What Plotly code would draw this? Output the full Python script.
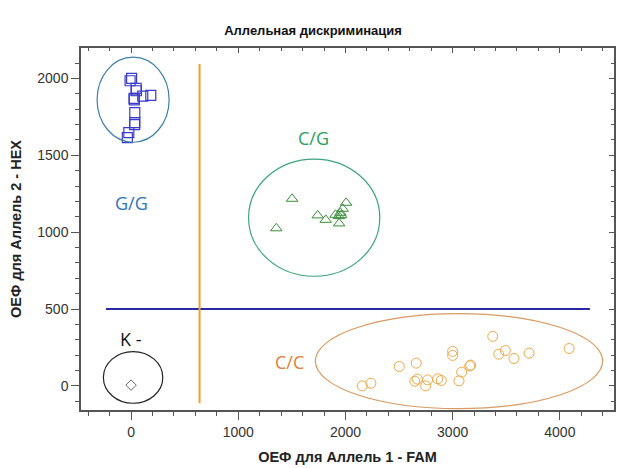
import plotly.graph_objects as go

# G/G cluster (squares)
gg_x = [-9, 5, 47, 50, 28, 30, 109, 184, 35, 35, 33, -21, -35]
gg_y = [1985, 2000, 1935, 1920, 1870, 1860, 1885, 1890, 1778, 1713, 1700, 1648, 1615]

# C/G cluster (triangles)
cg_x = [1502, 1355, 1741, 1816, 1907, 1938, 1953, 1975, 2006, 1941, 1960]
cg_y = [1217, 1025, 1109, 1080, 1113, 1104, 1126, 1152, 1191, 1057, 1110]

# C/C cluster (circles)
cc_x = [2156, 2237, 2502, 2660, 2647, 2670, 2748, 2766, 2860, 2894, 3000,
        3000, 3059, 3084, 3159, 3168, 3374, 3430, 3491, 3572, 3713, 4086]
cc_y = [0, 17, 126, 148, 30, 44, 0, 39, 46, 35, 224,
        198, 33, 89, 130, 135, 322, 206, 230, 178, 213, 243]

# negative control
neg_x = [0]
neg_y = [5]

# threshold lines
thr_x = 639
thr_y = 500

# cluster ellipses: name, center x, center y, radius x, radius y, colour
ellipses = [
    ("G/G", 19, 1862, 336, 277, "#3f7fa8"),
    ("C/G", 1708, 1094, 612, 381, "#3aa57a"),
    ("C/C", 3059, 161, 1340, 309, "#d99a60"),
    ("K -", 19, 55, 277, 168, "#222222"),
]

# labels
labels = [
    ("G/G", 5, 1190, "#2e75b6"),
    ("C/G", 1705, 1615, "#2ca05a"),
    ("K -", 0, 305, "#111111"),
    ("C/C", 1475, 155, "#e0803a"),
]

fig = go.Figure()

fig.add_trace(go.Scatter(x=gg_x, y=gg_y, mode="markers",
                         marker=dict(symbol="square-open", size=10, color="#3a3acc", line=dict(width=1.2))))
fig.add_trace(go.Scatter(x=cg_x, y=cg_y, mode="markers",
                         marker=dict(symbol="triangle-up-open", size=10, color="#3c8c3c", line=dict(width=1))))
fig.add_trace(go.Scatter(x=cc_x, y=cc_y, mode="markers",
                         marker=dict(symbol="circle-open", size=10, color="#f0a848", line=dict(width=1))))
fig.add_trace(go.Scatter(x=neg_x, y=neg_y, mode="markers",
                         marker=dict(symbol="diamond-open", size=8, color="#666666", line=dict(width=1))))

# threshold lines
fig.add_trace(go.Scatter(x=[-234, 4280], y=[thr_y, thr_y], mode="lines",
                         line=dict(color="#2a2aa0", width=2)))
fig.add_trace(go.Scatter(x=[thr_x, thr_x], y=[-113, 2094], mode="lines",
                         line=dict(color="#f0a030", width=2)))

for name, cx, cy, rx, ry, col in ellipses:
    fig.add_shape(type="circle", xref="x", yref="y",
                  x0=cx - rx, x1=cx + rx, y0=cy - ry, y1=cy + ry,
                  line=dict(color=col, width=1.2))

for txt, lx, ly, col in labels:
    fig.add_annotation(x=lx, y=ly, text=txt, showarrow=False,
                       font=dict(size=18, color=col, family="Segoe UI, Open Sans, sans-serif"))

tick_font = dict(family="Liberation Sans, Arial, sans-serif", size=14, color="#333333")
title_font = dict(family="Liberation Sans, Arial, sans-serif", size=14.5, color="#222222")
line_col = "#555555"

fig.update_layout(
    width=626, height=468,
    margin=dict(l=81, r=12, t=48, b=58, autoexpand=False),
    paper_bgcolor="white", plot_bgcolor="white",
    showlegend=False,
    title=dict(text="<b>Аллельная дискриминация</b>", x=0.5, xanchor="center",
               y=0.934, yanchor="middle", automargin=False,
               font=dict(family="Liberation Sans, Arial, sans-serif", size=13, color="#111111")),
    xaxis=dict(range=[-467, 4505], tickvals=[0, 1000, 2000, 3000, 4000], automargin=False,
               showgrid=False, zeroline=False, showline=True, linecolor=line_col, linewidth=1.5,
               ticks="outside", ticklen=8, tickcolor=line_col,
               minor=dict(ticks="outside", ticklen=4, dtick=200, tick0=0, tickcolor=line_col),
               tickfont=tick_font,
               title=dict(text="<b>ОЕФ для Аллель 1 - FAM</b>", font=title_font, standoff=13)),
    yaxis=dict(range=[-157, 2198], tickvals=[0, 500, 1000, 1500, 2000], automargin=False,
               showgrid=False, zeroline=False, showline=True, linecolor=line_col, linewidth=1.5,
               ticks="outside", ticklen=8, tickcolor=line_col,
               minor=dict(ticks="outside", ticklen=4, dtick=100, tick0=0, tickcolor=line_col),
               tickfont=tick_font,
               title=dict(text="<b>ОЕФ для Аллель 2 - HEX</b>", font=title_font, standoff=12)),
    xaxis2=dict(overlaying="x", matches="x", side="top", showticklabels=False, automargin=False,
                showgrid=False, zeroline=False, showline=True, linecolor=line_col, linewidth=1.5,
                tickvals=[0, 1000, 2000, 3000, 4000], ticks="inside", ticklen=5, tickcolor=line_col,
                minor=dict(ticks="inside", ticklen=3, dtick=200, tick0=0, tickcolor=line_col)),
    yaxis2=dict(overlaying="y", matches="y", side="right", showticklabels=False, automargin=False,
                showgrid=False, zeroline=False, showline=True, linecolor=line_col, linewidth=1.5,
                tickvals=[0, 500, 1000, 1500, 2000], ticks="inside", ticklen=5, tickcolor=line_col,
                minor=dict(ticks="inside", ticklen=3, dtick=100, tick0=0, tickcolor=line_col)),
)

# invisible trace to make the mirrored axes render
fig.add_trace(go.Scatter(x=neg_x, y=neg_y, xaxis="x2", yaxis="y2", mode="markers",
                         marker=dict(opacity=0), hoverinfo="skip"))

# page body has a default 8px margin; drop it so the figure sits at the window corner
fig.write_html("out.html", config={"displayModeBar": False},
               post_script="document.body.style.margin='0';")
